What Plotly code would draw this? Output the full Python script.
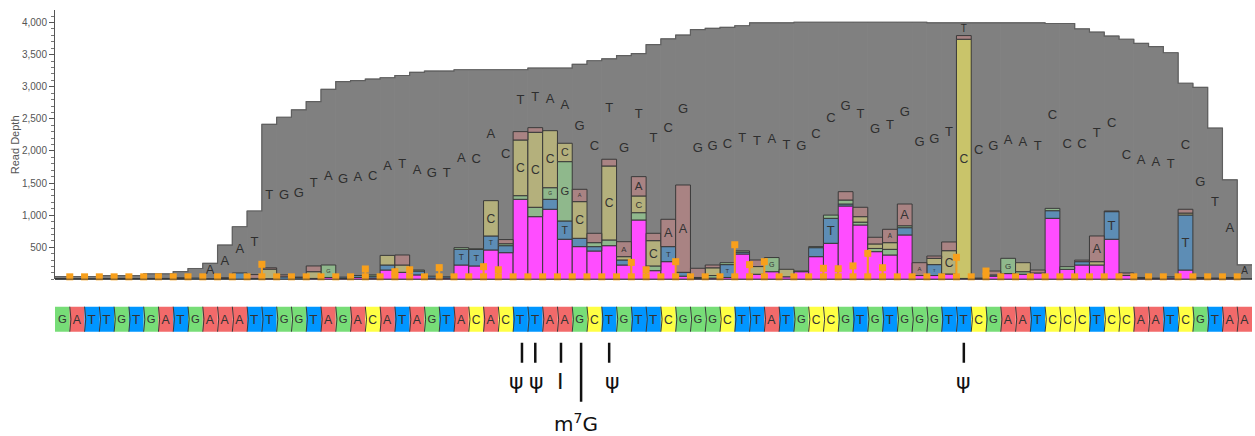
import plotly.graph_objects as go

# ---------------- data ----------------
ref_seq = list("GATTGTGATGAAATTGGTAGACATAGTACACTTAAGCTGTTCGGGCTTATGCCGTGTGGGTTCGAATCCCTCCAATCGTAA")
positions = list(range(len(ref_seq)))

read_depth = [45, 45, 45, 60, 60, 60, 85, 85, 120, 170,
              250, 535, 820, 1065, 2415, 2525, 2640, 2770, 2960, 3080,
              3095, 3120, 3140, 3175, 3225, 3245, 3245, 3265, 3265, 3265,
              3265, 3265, 3290, 3290, 3290, 3350, 3405, 3435, 3485, 3515,
              3655, 3745, 3805, 3890, 3910, 3925, 3950, 3995, 3995, 3995,
              4005, 4005, 4005, 4005, 4005, 4005, 4005, 4005, 4005, 3995,
              3995, 3995, 3995, 3995, 3995, 3995, 3995, 3985, 3985, 3900,
              3850, 3790, 3740, 3675, 3625, 3530, 3055, 2990, 2355, 1550,
              225]

# mismatch / deletion counts per position (stacked bottom -> top)
deletions = [0, 0, 0, 0, 0, 0, 0, 0, 0, 0,
             0, 0, 0, 0, 10, 0, 0, 15, 30, 15,
             30, 20, 146, 110, 70, 20, 20, 224, 209, 458,
             416, 1247, 977, 1092, 625, 510, 442, 525, 224, 925,
             136, 276, 50, 15, 20, 30, 395, 80, 120, 40,
             120, 354, 562, 1143, 847, 432, 380, 692, 60, 60,
             84, 15, 10, 50, 90, 80, 100, 951, 157, 224,
             224, 625, 60, 15, 10, 20, 146, 15, 10, 15,
             0]
mis_T = [10, 10, 10, 12, 10, 12, 15, 15, 15, 20,
         10, 15, 100, 15, 0, 40, 25, 0, 0, 20,
         30, 30, 78, 0, 60, 30, 20, 244, 257, 218,
         109, 0, 0, 155, 285, 130, 68, 0, 78, 0,
         0, 234, 60, 15, 0, 200, 30, 0, 0, 0,
         0, 140, 389, 31, 0, 0, 0, 113, 0, 170,
         0, 0, 10, 20, 0, 0, 0, 119, 0, 52,
         0, 430, 0, 15, 10, 20, 857, 15, 10, 15,
         10]
mis_G = [0, 0, 0, 0, 5, 0, 0, 0, 0, 0,
         0, 0, 0, 0, 0, 0, 0, 0, 194, 0,
         0, 20, 0, 0, 16, 0, 0, 26, 10, 0,
         30, 57, 146, 181, 924, 0, 62, 89, 0, 114,
         73, 0, 0, 0, 40, 30, 20, 0, 220, 0,
         0, 16, 50, 62, 45, 50, 88, 30, 0, 0,
         0, 0, 0, 0, 238, 40, 0, 36, 41, 0,
         0, 0, 0, 0, 0, 0, 0, 0, 0, 0,
         0]
mis_C = [0, 0, 0, 0, 0, 0, 0, 0, 0, 0,
         0, 0, 0, 0, 150, 0, 0, 105, 0, 0,
         0, 0, 150, 114, 0, 0, 0, 0, 0, 550,
         0, 867, 1168, 888, 286, 571, 0, 1152, 52, 260,
         394, 0, 0, 0, 120, 0, 0, 120, 0, 117,
         0, 0, 0, 0, 85, 70, 104, 0, 0, 98,
         363, 3725, 0, 0, 0, 140, 0, 0, 0, 0,
         52, 0, 0, 0, 0, 0, 30, 0, 0, 0,
         0]
mis_A = [5, 0, 0, 0, 0, 0, 0, 0, 10, 0,
         0, 10, 0, 60, 20, 30, 10, 89, 0, 0,
         0, 0, 0, 156, 0, 0, 0, 0, 0, 0,
         65, 130, 72, 0, 0, 192, 146, 105, 233, 301,
         115, 426, 1360, 143, 44, 0, 0, 102, 0, 0,
         10, 0, 0, 130, 146, 104, 208, 339, 200, 36,
         136, 57, 0, 60, 0, 0, 46, 0, 0, 24,
         400, 10, 40, 0, 0, 0, 59, 0, 0, 0,
         0]

# insertion counts between bases (value at the left edge of each position)
insertion_edges = list(range(1, 81))
insertion_counts = [40, 40, 40, 40, 40, 40, 40, 40, 40, 40,
                    40, 40, 40, 235, 40, 40, 40, 40, 40, 40,
                    162, 40, 120, 150, 40, 183, 40, 40, 198, 150,
                    40, 40, 40, 40, 40, 40, 40, 40, 265, 150,
                    40, 276, 40, 40, 40, 540, 230, 276, 40, 40,
                    40, 173, 166, 210, 406, 182, 40, 40, 40, 40,
                    344, 40, 130, 40, 40, 40, 40, 40, 40, 40,
                    40, 40, 40, 40, 40, 40, 40, 40, 40, 40]

letter_positions = list(range(10, 81))

mod_positions = [31, 32, 34, 35, 37, 61]
mod_labels = ["ψ", "ψ", "I", "m<sup>7</sup>G", "ψ", "ψ"]
mod_long = [False, False, False, True, False, False]

y_tick_vals = [500, 1000, 1500, 2000, 2500, 3000, 3500, 4000]

# ---------------- styling ----------------
FONT = "Liberation Sans, Arial, sans-serif"
seg_colors = {"del": "#ff4dff", "T": "#5d8db5", "G": "#8fb88c", "C": "#b4b07c", "A": "#a98383"}
tile_colors = {"A": "#f26a6a", "C": "#ffff44", "G": "#77dd77", "T": "#0096ff"}
LABEL_MIN = 160
mod_line_dx = [0.1, 0.0, -0.26, 0.1, 0.0, 0.0]
mod_text_dx = [-0.25, 0.1, -0.26, -0.25, 0.2, 0.0]

fig = go.Figure()

# read depth as full-width grey bars (bars layer sits below scatter layers)
fig.add_trace(go.Bar(x=positions, y=read_depth, width=1.0,
                     marker=dict(color="#808080", line=dict(color="#808080", width=1)),
                     hoverinfo="skip", showlegend=False))

# stacked bars
segments = [("del", deletions, False), ("T", mis_T, True), ("G", mis_G, True),
            ("C", mis_C, True), ("A", mis_A, True)]
base = [0] * len(positions)
for name, vals, labelled in segments:
    ys = [v if v > 0 else None for v in vals]
    txt = [(name if (labelled and v >= LABEL_MIN) else "") for v in vals]
    if name == "C":
        colors = ["#c9c46a" if v > 3000 else seg_colors["C"] for v in vals]
    else:
        colors = seg_colors[name]
    fig.add_trace(go.Bar(x=positions, y=ys, base=base, width=1.0,
                         marker=dict(color=colors, line=dict(color="#3a3a3a", width=1)),
                         text=txt, textposition="inside", insidetextanchor="middle",
                         textangle=0, textfont=dict(family=FONT, size=13, color="#333333"),
                         hoverinfo="skip", showlegend=False))
    base = [b + v for b, v in zip(base, vals)]

# outline of the read depth step
xe = [p - 0.5 for p in positions] + [positions[-1] + 0.5]
ye = read_depth + [read_depth[-1]]
fig.add_trace(go.Scatter(x=xe, y=ye, mode="lines", line_shape="hv",
                         line=dict(color="#5f5f5f", width=1.2),
                         hoverinfo="skip", showlegend=False))

# reference letters centred in the gap above the bars
lx, ly, lt, ls = [], [], [], []
for p in letter_positions:
    top = base[p]
    gap = read_depth[p] - top
    lx.append(p)
    ly.append((top + read_depth[p]) / 2)
    lt.append(ref_seq[p])
    ls.append(13 if gap >= 230 else 10)
fig.add_trace(go.Scatter(x=lx, y=ly, mode="text", text=lt,
                         textfont=dict(family=FONT, size=ls, color="#2e2e2e"),
                         hoverinfo="skip", showlegend=False, cliponaxis=False))

# insertion markers
ix = [e - 0.5 for e in insertion_edges]
fig.add_trace(go.Scatter(x=ix, y=[40] * len(ix), mode="markers",
                         marker=dict(symbol="square", size=7, color="#f8a01c"),
                         hoverinfo="skip", showlegend=False, cliponaxis=False))
hx = [x for x, v in zip(ix, insertion_counts) if v > 40]
hy = [v for v in insertion_counts if v > 40]
fig.add_trace(go.Scatter(x=hx, y=hy, mode="markers",
                         marker=dict(symbol="square", size=7, color="#f8a01c"),
                         error_y=dict(type="data", symmetric=False, array=[0] * len(hy),
                                      arrayminus=[v - 40 for v in hy], color="#f8a01c",
                                      thickness=2, width=3),
                         hoverinfo="skip", showlegend=False, cliponaxis=False))

# sequence track (y2 in pixel-like units: 0 = bottom of figure)
TILE_BOT, TILE_H = 104.3, 25.0
fig.add_trace(go.Bar(x=positions, y=[TILE_H] * len(positions), base=[TILE_BOT] * len(positions),
                     width=1.0, yaxis="y2",
                     marker=dict(color=[tile_colors[b] for b in ref_seq], line=dict(width=0)),
                     text=ref_seq, textposition="inside", insidetextanchor="middle", textangle=0,
                     textfont=dict(family=FONT, size=14, color="#333333"),
                     hoverinfo="skip", showlegend=False))

shapes = []
# separators between tiles
for p in positions[1:]:
    x0 = p - 0.5
    shapes.append(dict(type="path", xref="x", yref="y2",
                       path=f"M {x0},{TILE_BOT + TILE_H} Q {x0 + 0.16},{TILE_BOT + TILE_H / 2} {x0},{TILE_BOT}",
                       line=dict(color="#3a3a3a", width=1)))
# baseline
shapes.append(dict(type="line", xref="x", yref="y", x0=-0.5, x1=positions[-1] + 0.5, y0=0, y1=0,
                   line=dict(color="#333333", width=1.5)))

annotations = []
for p, lab, long, ldx, tdx in zip(mod_positions, mod_labels, mod_long, mod_line_dx, mod_text_dx):
    if long:
        shapes.append(dict(type="line", xref="x", yref="y2", x0=p + ldx, x1=p + ldx, y0=34.3, y1=93.3,
                           line=dict(color="#111111", width=2.5)))
        annotations.append(dict(x=p + tdx, y=0.5, xref="x", yref="y2", text=lab, showarrow=False,
                                yanchor="bottom", yshift=-3,
                                font=dict(family="DejaVu Sans, sans-serif", size=20, color="#111111")))
    else:
        shapes.append(dict(type="line", xref="x", yref="y2", x0=p + ldx, x1=p + ldx, y0=73.3, y1=93.3,
                           line=dict(color="#111111", width=2.5)))
        annotations.append(dict(x=p + tdx, y=54, xref="x", yref="y2", text=lab, showarrow=False,
                                font=dict(family="DejaVu Sans, sans-serif", size=22, color="#111111")))

annotations.append(dict(x=-0.0334, y=0.667, xref="paper", yref="paper", text="Read Depth",
                        showarrow=False, textangle=-90, xanchor="center", yanchor="middle",
                        font=dict(family=FONT, size=11, color="#555555")))

fig.update_layout(
    width=1255, height=436,
    margin=dict(l=55, r=3, t=0, b=0, autoexpand=False),
    paper_bgcolor="white", plot_bgcolor="white",
    barmode="overlay", showlegend=False, hovermode=False,
    xaxis=dict(visible=False, range=[-0.5, positions[-1] + 0.5], domain=[0, 1], automargin=False),
    yaxis=dict(domain=[0.3592, 0.977], range=[0, 4195], showgrid=False, zeroline=False,
               automargin=False,
               showline=True, linecolor="#555555", linewidth=1,
               tickmode="array", tickvals=y_tick_vals, tickformat=",",
               ticks="outside", ticklen=5, tickcolor="#555555",
               tickfont=dict(family=FONT, size=10, color="#555555"),
               minor=dict(tickmode="linear", tick0=0, dtick=100, ticks="outside",
                          ticklen=3, tickcolor="#777777")),
    yaxis2=dict(domain=[0, 0.3592], range=[0, 156.6], visible=False, anchor="x", automargin=False),
    shapes=shapes, annotations=annotations,
)

fig.write_html("out.html", config={"displayModeBar": False},
               post_script="document.body.style.margin='0';document.body.style.overflow='hidden';")
